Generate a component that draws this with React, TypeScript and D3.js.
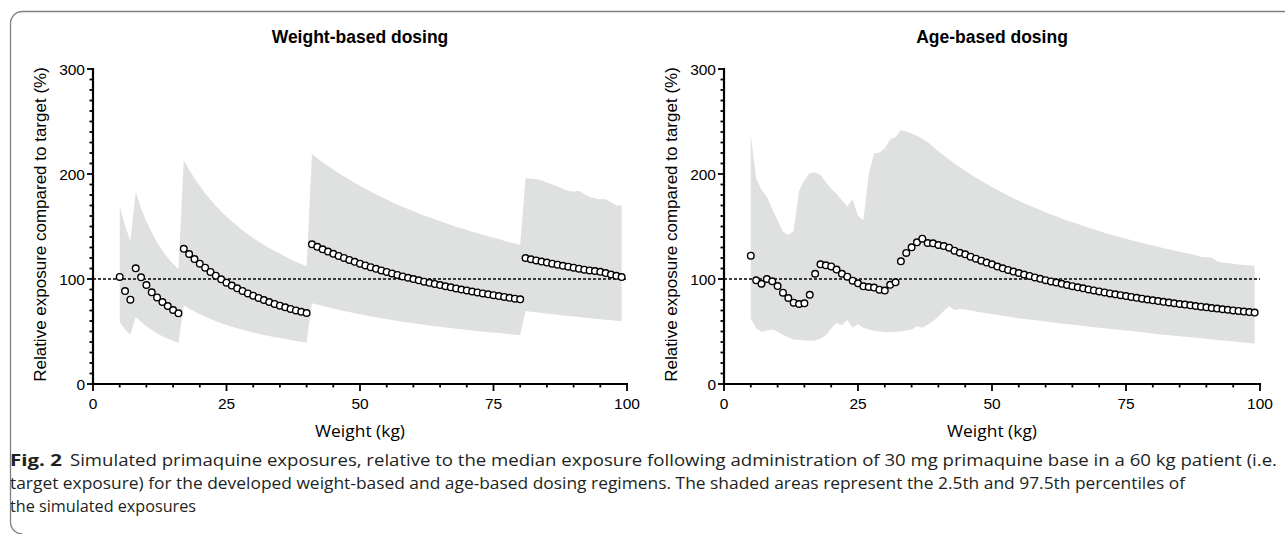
import React from 'react';
import * as d3 from 'd3';

// Weight categories (kg)
const weights = [5,6,7,8,9,10,11,12,13,14,15,16,17,18,19,20,21,22,23,24,25,26,27,28,29,30,31,32,33,34,35,36,37,38,39,40,41,42,43,44,45,46,47,48,49,50,51,52,53,54,55,56,57,58,59,60,61,62,63,64,65,66,67,68,69,70,71,72,73,74,75,76,77,78,79,80,81,82,83,84,85,86,87,88,89,90,91,92,93,94,95,96,97,98,99];

// Weight-based dosing
const weightMedian = [102,88.5,80.3,110.2,101.6,94.3,87.3,82.5,78.1,74.3,70.5,67.3,
  128.7,123.8,119,114.6,110.8,106.7,103.2,99.7,96.5,93.7,91.1,88.6,86.3,84.1,82.0,80.0,78.1,76.3,74.6,73.0,71.5,70.1,68.8,67.6,
  133,130.6,128.3,126.1,124.0,122.0,120.1,118.2,116.4,114.6,112.9,111.3,109.7,108.2,106.7,105.3,103.9,102.5,101.2,99.9,98.7,97.5,96.4,95.3,94.2,93.1,92.1,91.0,90.0,89.1,88.1,87.2,86.3,85.4,84.6,83.7,82.9,82.1,81.3,80.6,
  120,118.8,117.7,116.6,115.6,114.6,113.6,112.6,111.7,110.8,109.8,108.9,108.2,107.6,106.8,105.6,104.3,103.0,101.8];
const weightUpper = [169,151,136,183,167.5,154.8,144.2,135.1,127.2,120.3,114.2,109.5,
  213,204,196,188.5,181.7,175.5,169.8,164.4,159.5,154.9,150.6,146.5,142.7,139.1,135.7,132.5,129.5,126.7,124.0,121.4,118.9,116.5,114.2,112.0,
  219,215.1,211.3,207.6,204.3,200.8,197.8,194.7,191.6,188.8,185.9,183.3,180.7,178.0,175.6,173.2,171.0,168.8,166.7,164.7,162.5,160.5,158.8,156.8,155.1,153.3,151.5,149.8,148.3,146.7,145.0,143.7,142.1,140.6,139.3,138.0,136.4,135.1,133.8,132.7,
  196,195.5,195,194,192,190,188,186,184,183,184,181,178,177,176,176,173,170,170];
const weightLower = [59,52,47,64,59,55,51.5,48,45.5,43,41,39,
  75,71.9,69,66.4,64,61.8,59.8,57.9,56.2,54.5,53,51.6,50.3,49,47.8,46.7,45.6,44.6,43.7,42.8,41.9,41,40.2,39.5,
  77,75.6,74.3,73.0,71.8,70.6,69.5,68.5,67.4,66.4,65.4,64.4,63.5,62.6,61.8,60.9,60.1,59.4,58.6,57.9,57.1,56.4,55.8,55.1,54.5,53.9,53.3,52.7,52.1,51.6,51.0,50.5,50.0,49.4,49.0,48.5,48.0,47.5,47.0,46.7,
  69.5,68.9,68.3,67.6,67.0,66.4,65.9,65.3,64.8,64.2,63.7,63.2,62.7,62.1,61.6,61.2,60.7,60.3,59.8];

// Age-based dosing
const ageMedian = [122.2,98.7,95.5,100,97.8,93.3,87,81.9,77.5,76.2,76.8,85,105,114,113,112,109,105,102.2,98.4,95.9,93,92.4,91.8,89.8,89,94.5,96.8,116.8,124.8,130.2,134.9,138.4,134.3,134,132.4,131.4,129.8,127,125,123.5,121.3,119.4,117.5,115.6,114,111.8,
  110.2,108.6,107.1,105.7,104.2,102.9,101.5,100.2,98.9,97.7,96.6,95.4,94.3,93.2,92.1,91.1,90.1,89.1,88.2,87.2,86.3,85.4,84.6,83.7,82.9,82.1,81.3,80.5,79.7,79.0,78.3,77.6,76.9,76.2,75.6,74.9,74.3,73.6,73.0,72.4,71.8,71.2,70.7,70.1,69.6,69.0,68.5,68.0];
const ageUpper = [237,196,185,178,167,156,145,142,146,184,194,201,201.5,199,192.5,186,181,175,169,176,160,156,200,219.5,220.5,224.5,233,235,242,240.5,238.5,236.5,233.5,
  230.4,226,221.7,217.7,213.8,210.1,206.4,203,199.7,196.5,193.4,190.4,187.6,184.8,
  182.1,179.5,177.0,174.6,172.2,170.0,167.8,165.6,163.5,161.5,159.7,157.6,155.8,154.1,152.3,150.6,148.9,147.3,145.8,144.1,142.7,141.2,139.7,138.4,136.9,135.6,134.3,133.1,131.8,130.7,129.4,128.3,127.1,126.0,124.9,123.8,122.7,121.0,120.8,120.5,117.0,115.5,115.2,114.5,113.9,113.4,113.1,112.4];
const ageLower = [62.5,53,49.5,51,52,50,46.7,44.5,42.5,41.8,41.5,41.3,41.5,43,46.5,53,58,56,61,53.5,57,53.5,52,50.5,50,49.5,49.2,49.5,50,51,52,55,53.5,56.5,60,64,69.5,74,70.5,71.5,71,70,69,68.2,67.4,66.6,65.8,
  65,64.2,63.4,62.7,62,61.4,60.8,60.2,59.5,58.9,58.3,57.7,57.1,56.5,55.9,55.3,54.7,54.1,53.5,53,52.5,52,51.5,51,50.4,49.8,49.2,48.6,48,47.5,47,46.5,46,45.5,45,44.5,44,43.5,43,42.5,42,41.5,41,40.5,40,39.5,39,38.5];

const yMajor = [0, 100, 200, 300];
const xMajor = [0, 25, 50, 75, 100];
const yMinor = d3.range(0, 301, 10);
const xMinor = d3.range(0, 101, 5);
const targetLine = 100;

const AXIS_FONT = "'Liberation Sans', Arial, Helvetica, sans-serif";
const CAP_FONT = "'Open Sans', 'Noto Sans', sans-serif";

function Panel({ left, right, title, median, upper, lower }) {
  const x = d3.scaleLinear().domain([0, 100]).range([left, right]);
  const y = d3.scaleLinear().domain([0, 300]).range([384, 69]);
  const area = d3.area()
    .x((d, i) => x(weights[i]))
    .y0((d, i) => y(lower[i]))
    .y1((d, i) => y(upper[i]));
  const cx = (left + right) / 2;
  return (
    <g>
      <path d={area(weights) || ''} fill="#dfe0e0" />
      <line x1={x(0)} x2={x(100)} y1={y(targetLine)} y2={y(targetLine)} stroke="#000" strokeWidth={1.5} strokeDasharray="3,2" />
      {median.map((v, i) => (
        <circle key={i} cx={x(weights[i])} cy={y(v)} r={3.3} fill="#fff" stroke="#000" strokeWidth={1.4} />
      ))}
      <line x1={x(0)} x2={x(0)} y1={y(0) + 1} y2={y(300) - 1} stroke="#000" strokeWidth={2.2} />
      <line x1={x(0) - 1} x2={x(100) + 1} y1={y(0)} y2={y(0)} stroke="#000" strokeWidth={2.2} />
      {yMinor.map(t => (
        <line key={'ym' + t} x1={x(0)} x2={x(0) - (yMajor.includes(t) ? 6 : 3.5)} y1={y(t)} y2={y(t)} stroke="#000" strokeWidth={1.8} />
      ))}
      {xMinor.map(t => (
        <line key={'xm' + t} x1={x(t)} x2={x(t)} y1={y(0)} y2={y(0) + (xMajor.includes(t) ? 7 : 3.5)} stroke="#000" strokeWidth={1.8} />
      ))}
      {yMajor.map(t => (
        <text key={'yl' + t} x={x(0) - 8} y={y(t)} dy="0.36em" textAnchor="end" fontFamily={AXIS_FONT} fontSize={15.5} fill="#000">{t}</text>
      ))}
      {xMajor.map(t => (
        <text key={'xl' + t} x={x(t)} y={409} textAnchor="middle" fontFamily={AXIS_FONT} fontSize={15.5} fill="#000">{t}</text>
      ))}
      <text x={cx} y={43} textAnchor="middle" fontFamily={AXIS_FONT} fontWeight="bold" fontSize={17.5} fill="#000">{title}</text>
      <text transform={`translate(${left - 47},${224.5}) rotate(-90)`} textAnchor="middle" fontFamily={AXIS_FONT} fontSize={17} fill="#000">Relative exposure compared to target (%)</text>
      <text x={cx} y={437} textAnchor="middle" fontFamily={CAP_FONT} fontSize={17} fill="#000" textLength={90} lengthAdjust="spacingAndGlyphs">Weight (kg)</text>
    </g>
  );
}

export default function App() {
  return (
    <svg width={1285} height={534} style={{ position: 'absolute', left: 0, top: 0, background: '#fff' }}>
      <rect x={0} y={0} width={1285} height={534} fill="#fff" />
      <path d="M 1285 11.5 H 22.5 A 12 12 0 0 0 10.5 23.5 V 522 A 12 12 0 0 0 22.5 534" fill="none" stroke="#808080" strokeWidth={1.3} />
      <Panel left={93} right={627} title="Weight-based dosing" median={weightMedian} upper={weightUpper} lower={weightLower} />
      <Panel left={724} right={1260} title="Age-based dosing" median={ageMedian} upper={ageUpper} lower={ageLower} />
      <g fontFamily={CAP_FONT} fontSize={16} fill="#231f20">
        <text x={10} y={466} fontWeight="bold" textLength={52} lengthAdjust="spacingAndGlyphs">Fig. 2</text>
        <text x={70} y={466} textLength={1207} lengthAdjust="spacingAndGlyphs">Simulated primaquine exposures, relative to the median exposure following administration of 30 mg primaquine base in a 60 kg patient (i.e.</text>
        <text x={10} y={489} textLength={1175} lengthAdjust="spacingAndGlyphs">target exposure) for the developed weight-based and age-based dosing regimens. The shaded areas represent the 2.5th and 97.5th percentiles of</text>
        <text x={10} y={512} textLength={186} lengthAdjust="spacingAndGlyphs">the simulated exposures</text>
      </g>
    </svg>
  );
}
